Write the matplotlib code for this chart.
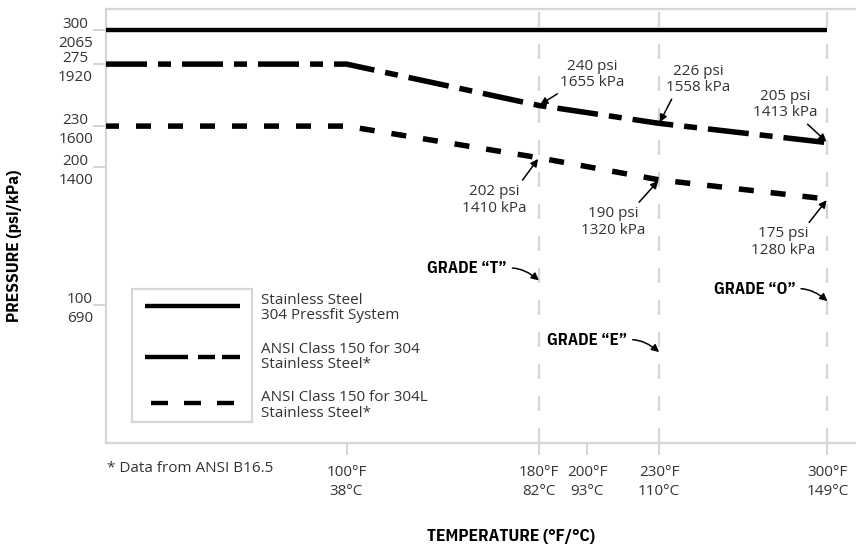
import matplotlib
matplotlib.use('Agg')
import matplotlib.pyplot as plt
from matplotlib import font_manager as fm
from matplotlib.lines import Line2D
from matplotlib.patches import Rectangle

# 字型：一般文字用 Open Sans，粗體標題用窄體
avail = {f.name for f in fm.fontManager.ttflist}
BASE, FS = 'DejaVu Sans', 10
for cand, size in [('Open Sans', 11), ('Noto Sans', 11)]:
    if cand in avail:
        BASE, FS = cand, size
        break
BOLD = 'DejaVu Sans'
for cand in ['IBM Plex Sans Condensed', 'Fira Sans Condensed', 'Barlow Condensed']:
    if cand in avail:
        BOLD = cand
        break
plt.rcParams['font.family'] = [BASE, 'DejaVu Sans']
plt.rcParams['lines.scale_dashes'] = False

# 資料
temps = [0, 100, 180, 230, 300]
pressfit = [300, 300, 300, 300, 300]
ansi_304 = [275, 275, 245, 232, 218]
ansi_304l = [230, 230, 207, 191, 177]

xticks = [100, 180, 200, 230, 300]
xtick_labels = ['100°F\n38°C', '180°F\n82°C', '200°F\n93°C', '230°F\n110°C', '300°F\n149°C']
yticks = [100, 200, 230, 275, 300]
ytick_labels = ['100\n690', '200\n1400', '230\n1600', '275\n1920', '300\n2065']

grade_temps = [180, 230, 300]
grade_names = ['GRADE “T”', 'GRADE “E”', 'GRADE “O”']
grade_levels = [118, 66, 103]

callout_text_304 = ['240 psi\n1655 kPa', '226 psi\n1558 kPa', '205 psi\n1413 kPa']
callout_text_304l = ['202 psi\n1410 kPa', '190 psi\n1320 kPa', '175 psi\n1280 kPa']

legend_labels = ['Stainless Steel\n304 Pressfit System',
                 'ANSI Class 150 for 304\nStainless Steel*',
                 'ANSI Class 150 for 304L\nStainless Steel*']

GRAY = '#d6d6d6'
TXT = '#333333'
PX = 0.72  # 1 px in points at dpi 100

fig = plt.figure(figsize=(8.56, 5.44), dpi=100)
ax = fig.add_axes([106 / 856, 1 - 443 / 544, 1 - 106 / 856, (443 - 9) / 544])
ax.set_xlim(0, 750 / 2.405)
ax.set_ylim(0, 315)

# 垂直虛線格線
for t in grade_temps:
    ax.axvline(t, color=GRAY, lw=2.2 * PX, dashes=(15 * PX, 17 * PX), zorder=1)

# 曲線
ax.plot(temps, pressfit, color='black', lw=4.4 * PX, solid_capstyle='butt', zorder=3)
l1, = ax.plot(temps, ansi_304, color='black', lw=5.5 * PX, zorder=3,
              dash_capstyle='butt', dash_joinstyle='round')
l1.set_dashes((41 * PX, 11 * PX, 13 * PX, 11 * PX))
l2, = ax.plot(temps, ansi_304l, color='black', lw=5.5 * PX, zorder=3,
              dash_capstyle='butt', dash_joinstyle='round')
l2.set_linestyle((2 * PX, (15 * PX, 17 * PX)))

# 座標軸
for s in ['left', 'bottom', 'top']:
    ax.spines[s].set_color(GRAY)
    ax.spines[s].set_linewidth(2.2 * PX)
ax.spines['right'].set_visible(False)

ax.set_xticks(xticks)
ax.set_xticklabels(xtick_labels, fontsize=FS, color=TXT, linespacing=1.35)
ax.set_yticks(yticks)
ax.set_yticklabels(ytick_labels, fontsize=FS, color=TXT, linespacing=1.35)
for lab in ax.get_yticklabels():
    lab.set_multialignment('center')
ax.tick_params(axis='x', length=12 * PX, width=2 * PX, color=GRAY, pad=7)
ax.tick_params(axis='y', length=13 * PX, width=2 * PX, color=GRAY, pad=0)

# 標註
arrow = dict(arrowstyle='-|>', color='black', lw=1.1, mutation_scale=11,
             shrinkA=1, shrinkB=1)
offs_304 = [((53, 31), (0.05, 0.0)), ((39, 44), (0.12, 0.0)), ((-42, 38), (0.78, 0.0))]
offs_304l = [((-45, -42), (0.9, 1.0)), ((-46, -42), (0.85, 1.0)), ((-44, -43), (0.85, 1.0))]
for i, txt in enumerate(callout_text_304):
    (dx, dy), rel = offs_304[i]
    ax.annotate(txt, xy=(temps[i + 2], ansi_304[i + 2]), xytext=(dx, dy),
                textcoords='offset pixels', ha='center', va='center',
                fontsize=FS, color=TXT, linespacing=1.15,
                arrowprops=dict(arrow, relpos=rel), zorder=4)
for i, txt in enumerate(callout_text_304l):
    (dx, dy), rel = offs_304l[i]
    ax.annotate(txt, xy=(temps[i + 2], ansi_304l[i + 2]), xytext=(dx, dy),
                textcoords='offset pixels', ha='center', va='center',
                fontsize=FS, color=TXT, linespacing=1.15,
                arrowprops=dict(arrow, relpos=rel), zorder=4)

# 等級標籤
for t, name, lv in zip(grade_temps, grade_names, grade_levels):
    ax.annotate(name, xy=(t, lv), xytext=(-32, 12), textcoords='offset pixels',
                ha='right', va='center', fontsize=12, fontweight='bold',
                family=[BOLD, 'DejaVu Sans'], color='black',
                arrowprops=dict(arrowstyle='-|>', color='black', lw=1.1,
                                mutation_scale=11, shrinkA=2, shrinkB=0,
                                relpos=(1.0, 0.5),
                                connectionstyle='angle3,angleA=10,angleB=-40'))

# 圖例
ax.add_patch(Rectangle((0.0347, 0.0484), 0.16, 0.3064, transform=ax.transAxes,
                       fill=False, edgecolor=GRAY, lw=2.2 * PX, zorder=2))
leg_y = [0.316, 0.198, 0.092]
ax.add_line(Line2D([0.052, 0.179], [leg_y[0], leg_y[0]], transform=ax.transAxes,
                   color='black', lw=4.4 * PX, solid_capstyle='butt'))
ax.add_line(Line2D([0.052, 0.179], [leg_y[1], leg_y[1]], transform=ax.transAxes,
                   color='black', lw=4.4 * PX, dash_capstyle='butt',
                   linestyle=(0, (43 * PX, 10 * PX, 17 * PX, 7 * PX))))
ax.add_line(Line2D([0.052, 0.179], [leg_y[2], leg_y[2]], transform=ax.transAxes,
                   color='black', lw=4.4 * PX, dash_capstyle='butt',
                   linestyle=(27 * PX, (17 * PX, 16 * PX))))
for y, lab in zip([0.311, 0.198, 0.087], legend_labels):
    ax.text(0.2067, y, lab, transform=ax.transAxes, ha='left', va='center',
            fontsize=FS, color=TXT, linespacing=1.05)

# 軸標題與註腳
fig.text(15 / 856, 1 - 246 / 544, 'PRESSURE (psi/kPa)', rotation=90,
         ha='center', va='center', fontsize=12.5, fontweight='bold',
         family=[BOLD, 'DejaVu Sans'])
fig.text(511 / 856, 1 - 536 / 544, 'TEMPERATURE (°F/°C)', ha='center',
         va='center', fontsize=12.5, fontweight='bold',
         family=[BOLD, 'DejaVu Sans'])
fig.text(107 / 856, 1 - 468 / 544, '* Data from ANSI B16.5', ha='left',
         va='center', fontsize=FS, color=TXT)

fig.savefig('out.png', dpi=100)
